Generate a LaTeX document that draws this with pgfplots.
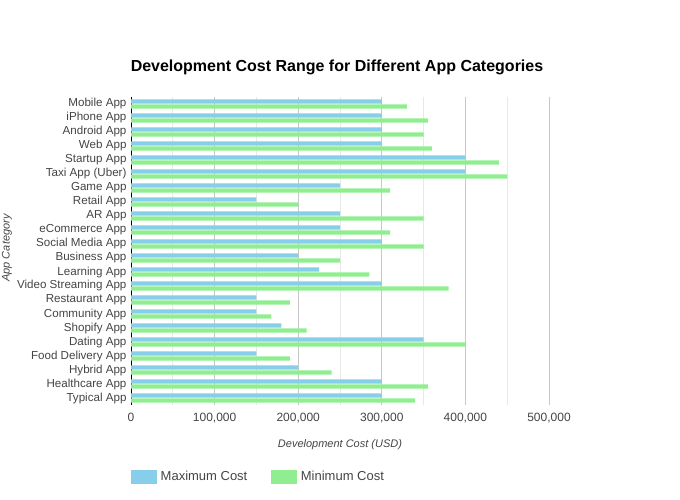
\documentclass[border=0pt]{standalone}
\usepackage{pgfplots}
\pgfplotsset{compat=1.18}
\usepackage{fontspec}
\setmainfont{Liberation Sans}
\definecolor{maxc}{HTML}{87CEEB}
\definecolor{minc}{HTML}{90EE90}
\definecolor{txt}{HTML}{444444}
\definecolor{majg}{HTML}{C8C8C8}
\definecolor{ming}{HTML}{E8E8E8}
\pgfplotstableread{
idx max min
0 300000 330000
1 300000 355000
2 300000 350000
3 300000 360000
4 400000 440000
5 400000 450000
6 250000 310000
7 150000 200000
8 250000 350000
9 250000 310000
10 300000 350000
11 200000 250000
12 225000 285000
13 300000 380000
14 150000 190000
15 150000 168000
16 180000 210000
17 350000 400000
18 150000 190000
19 200000 240000
20 300000 355000
21 300000 340000
}\costs
\begin{document}
\begin{tikzpicture}[x=1pt,y=1pt]
\path[use as bounding box] (0,0) rectangle (680,500);
\begin{axis}[
  at={(131pt,95pt)}, anchor=south west,
  scale only axis, width=418pt, height=308pt,
  xmin=0, xmax=500000, ymin=-0.5, ymax=21.5,
  y dir=reverse,
  xbar, bar width=4.2pt,
  axis x line*=bottom, axis y line*=left,
  x axis line style={draw=none},
  y axis line style={draw=black, line width=0.8pt},
  ytick={0,...,21},
  yticklabels={Mobile App,iPhone App,Android App,Web App,Startup App,Taxi App (Uber),Game App,Retail App,AR App,eCommerce App,Social Media App,Business App,Learning App,Video Streaming App,Restaurant App,Community App,Shopify App,Dating App,Food Delivery App,Hybrid App,Healthcare App,Typical App},
  xtick={0,100000,200000,300000,400000,500000},
  minor xtick={50000,150000,250000,350000,450000},
  scaled x ticks=false,
  /pgf/number format/.cd, fixed, 1000 sep={,}, assume math mode=true,
  /pgfplots/.cd,
  xmajorgrids, xminorgrids,
  major grid style={draw=majg, line width=0.8pt},
  minor grid style={draw=ming, line width=0.8pt},
  major tick length=0pt, minor tick length=0pt,
  tick style={draw=none},
  ticklabel style={font=\fontsize{12}{14}\selectfont, text=txt},
  yticklabel style={xshift=-1pt, font=\fontsize{11.6}{14}\selectfont},
  xticklabel style={yshift=-5pt},
  legend style={at={(0,0)}, anchor=north west, xshift=-3pt, yshift=-62pt, draw=none, fill=none,
    legend columns=2, font=\fontsize{13}{15}\selectfont, text=txt,
    /tikz/every even column/.append style={column sep=22pt},
    /tikz/every odd column/.append style={column sep=1.5pt}},
  legend image code/.code={\fill[#1, draw=none] (0pt,-7pt) rectangle (26pt,7pt);},
]
\addplot[fill=maxc, draw=none, bar shift=2.5pt] table[x=max, y=idx] {\costs};
\addplot[fill=minc, draw=none, bar shift=-2.5pt] table[x=min, y=idx] {\costs};
\legend{Maximum Cost, Minimum Cost}
\end{axis}
\node[font=\fontsize{16}{19}\selectfont\bfseries] at (337,433) {Development Cost Range for Different App Categories};
\node[font=\fontsize{11}{13}\selectfont\itshape, text=txt] at (340,55) {Development Cost (USD)};
\node[font=\fontsize{11}{13}\selectfont\itshape, text=txt, rotate=90] at (7,252) {App Category};
\end{tikzpicture}
\end{document}
